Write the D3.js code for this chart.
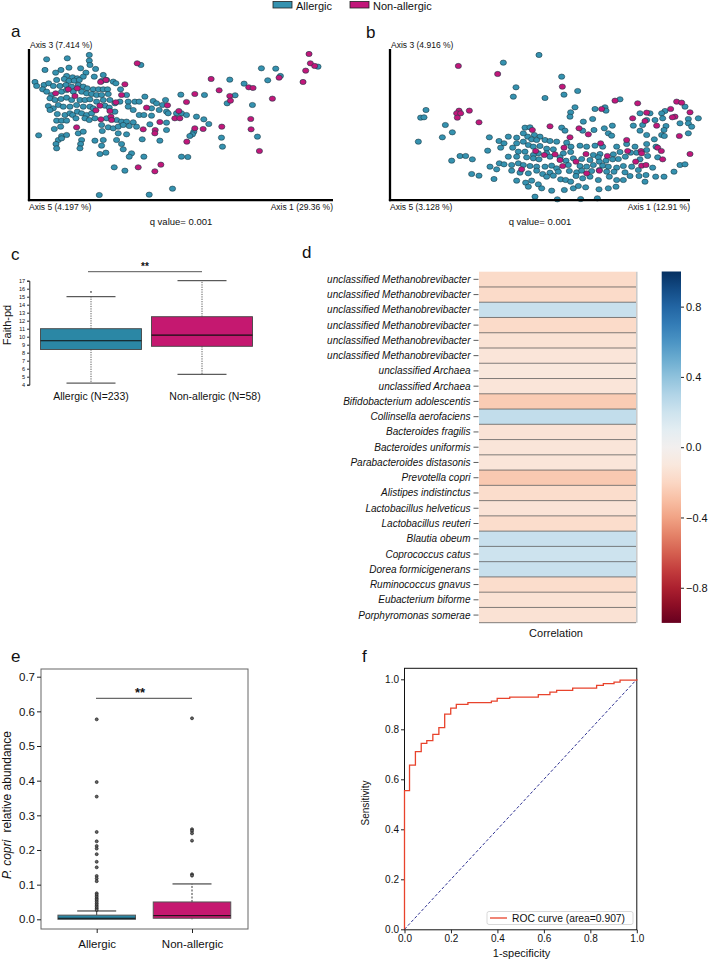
<!DOCTYPE html>
<html><head><meta charset="utf-8">
<script src="https://cdn.jsdelivr.net/npm/d3@7"></script>
<style>body{margin:0;background:#fff}svg{display:block}</style>
</head><body><svg id="chart" width="711" height="959"></svg>
<script>
// ---------------- DATA ----------------
const groups = ["Allergic", "Non-allergic"];
const groupColors = ["#3592b0", "#c2177a"];
const boxColors = ["#2b87a5", "#c51870"];

// PCoA (panel a): [axis1 score, axis3 score (picture units, downwards), group]
const pcoaA = [
[268,165,0],[140,178,0],[202,175,0],[423,195,0],[955,200,0],[268,182,0],[270,195,0],[135,210,0],[167,218,0],[183,210,0],[207,203,0],[242,205,0],[258,218,0],[287,207,0],[785,205,0],[828,206,0],[842,228,0],[804,241,0],
[412,190,1],[928,162,1],[932,190,1],[945,198,1],[918,212,1],[838,233,1],[910,246,1],
[310,225,0],[200,228,0],[218,232,0],[232,235,0],[250,230,0],[283,230,0],[170,240,0],[193,237,0],[207,243,0],[223,242,0],[238,240,0],[305,243,0],[320,240,0],[340,245,0],[348,250,0],[105,246,0],[110,258,0],[132,255,0],[146,250,0],[160,258,0],[180,258,0],[198,255,0],[215,260,0],[235,255,0],[250,260,0],[262,265,0],[280,268,0],[296,268,0],[310,268,0],[323,268,0],[362,268,0],[690,239,0],[733,251,0],
[302,246,1],[318,240,1],[375,253,1],[634,237,1],[747,262,1],[760,264,1],[658,271,1],
[128,268,0],[140,275,0],[155,285,0],[185,275,0],[200,270,0],[220,275,0],[245,275,0],[260,280,0],[275,282,0],[290,285,0],[305,285,0],[325,282,0],[380,285,0],[435,290,0],[543,284,0],[614,285,0],[706,286,0],
[167,280,1],[205,268,1],[232,265,1],[365,285,1],[585,282,1],[690,288,1],[818,296,1],[692,302,1],
[150,295,0],[165,300,0],[183,297,0],[200,293,0],[215,300,0],[240,300,0],[255,300,0],[270,298,0],[290,305,0],[310,300,0],[330,300,0],[345,310,0],[360,305,0],[385,305,0],[405,305,0],[418,305,0],[460,303,0],[470,310,0],[497,300,0],[488,315,0],[682,310,0],[758,315,0],[455,325,0],[385,320,0],[145,318,0],[160,325,0],[175,315,0],[190,320,0],[210,320,0],[230,315,0],[250,320,0],[270,320,0],[280,325,0],[315,317,0],[328,323,0],
[225,288,1],[348,307,1],[503,316,1],[560,306,1],[440,323,1],[300,317,1],[288,331,1],
[150,330,0],[172,342,0],[195,345,0],[210,340,0],[218,345,0],[232,335,0],[245,340,0],[260,345,0],[275,340,0],[345,335,0],[400,330,0],[418,345,0],[432,345,0],[455,347,0],[478,330,0],[500,335,0],[505,340,0],[530,340,0],[545,340,0],[560,345,0],[590,350,0],[612,358,0],[170,362,0],[185,362,0],[200,362,0],[228,355,0],[255,355,0],[268,360,0],[285,355,0],[320,355,0],[350,360,0],[365,365,0],[380,365,0],[400,367,0],[500,368,0],[627,372,0],
[330,333,1],[537,333,1],[525,355,1],[540,355,1],[753,357,1],[303,358,1],[333,350,1],[335,360,1],[480,366,1],
[305,375,0],[325,382,0],[340,385,0],[355,380,0],[370,375,0],[388,378,0],[410,380,0],[450,373,0],[163,387,0],[182,380,0],[500,390,0],[582,395,0],[578,403,0],[116,406,0],[185,408,0],[200,405,0],[235,400,0],[250,395,0],[307,393,0],[355,400,0],[380,403,0],[570,408,0],[665,413,0],[773,410,0],
[230,382,1],[430,388,1],[466,390,1],[585,385,1],[610,387,1],[666,380,1],[754,388,1],[465,400,1],
[175,420,0],[185,415,0],[245,420,0],[285,422,0],[310,420,0],[350,420,0],[427,418,0],[480,422,0],[168,432,0],[242,432,0],[305,437,0],[365,432,0],[668,440,0],[170,445,0],[240,445,0],[370,448,0],
[561,425,1],[779,453,1],
[300,462,0],[318,458,0],[395,460,0],[388,470,0],[432,470,0],[545,470,0],[564,471,0],[343,502,0],[375,512,0],[518,566,0],[298,585,0],[448,584,0],
[483,494,1],[415,502,1],[465,514,1]
];

// PCoA (panel b)
const pcoaB = [
[537,165,0],[430,188,0],[605,230,0],[468,262,0],[653,273,0],[612,284,0],[460,290,0],[555,294,0],[780,298,0],[975,320,0],
[295,198,1],[413,222,1],[607,260,1],[765,302,1],[833,310,1],[950,305,1],[965,308,1],
[198,330,0],[182,353,0],[192,352,0],[645,322,0],[632,337,0],[705,327,0],[735,322,0],[738,332,0],[630,350,0],[698,357,0],[670,365,0],[840,340,0],[870,340,0],[915,333,0],[905,340,0],[1015,355,0],[985,357,0],[860,360,0],[848,375,0],[820,377,0],[885,360,0],[908,355,0],[985,370,0],[995,380,0],[960,370,0],[918,378,0],
[297,332,1],[290,340,1],[302,340,1],[328,332,1],[292,353,1],[357,367,1],[725,327,1],[818,355,1],[860,338,1],[932,327,1],[990,337,1],[945,350,1],[937,352,1],[855,363,1],[890,377,1],
[256,375,0],[277,397,0],[247,412,0],[175,425,0],[495,383,0],[510,382,0],[605,383,0],[615,392,0],[702,390,0],[733,385,0],[757,377,0],[668,392,0],[745,400,0],[840,392,0],[755,407,0],[540,410,0],[523,405,0],[503,410,0],[490,400,0],[445,410,0],[470,413,0],[388,412,0],[860,405,0],[912,390,0],[905,405,0],[985,400,0],[883,418,0],[913,408,0],
[517,390,1],[570,379,1],[657,385,1],[685,403,1],[630,412,1],[958,408,1],
[417,423,0],[432,430,0],[470,430,0],[490,425,0],[515,418,0],[530,420,0],[555,420,0],[570,423,0],[505,435,0],[520,440,0],[540,438,0],[590,425,0],[620,428,0],[633,440,0],[560,446,0],[580,448,0],[660,437,0],[680,440,0],[705,437,0],[728,440,0],[770,440,0],[800,432,0],[825,440,0],[860,432,0],[888,440,0],[560,460,0],[422,443,0],[458,443,0],[383,452,0],[475,455,0],[495,455,0],[535,460,0],[520,465,0],[610,460,0],[632,456,0],[860,450,0],[830,458,0],[812,458,0],[780,456,0],[760,463,0],[720,462,0],[700,465,0],[715,472,0],
[612,443,1],[722,430,1],[800,420,1],[893,443,1],[585,463,1],[527,453,1],[904,453,1],[843,453,1],[845,460,1],[803,453,1],[742,468,1],[678,462,1],
[300,468,0],[317,468,0],[337,478,0],[275,482,0],[445,470,0],[470,470,0],[500,472,0],[520,475,0],[537,478,0],[570,470,0],[600,472,0],[618,482,0],[640,475,0],[665,477,0],[690,480,0],[718,485,0],[738,482,0],[758,478,0],[775,477,0],[796,470,0],[840,478,0],[863,468,0],[893,472,0],[960,495,0],[975,493,0],
[553,465,1],[600,480,1],[648,485,1],[827,485,1],[908,478,1],[990,462,1],
[390,500,0],[410,508,0],[418,490,0],[432,493,0],[455,495,0],[475,490,0],[490,495,0],[510,498,0],[530,500,0],[555,500,0],[575,497,0],[590,505,0],[625,495,0],[660,498,0],[680,500,0],[700,495,0],[728,497,0],[745,500,0],[770,503,0],[790,498,0],[815,500,0],[878,503,0],[835,510,0],[455,512,0],[480,518,0],[505,520,0],[530,512,0],[548,522,0],[570,518,0],[595,515,0],[628,513,0],[650,517,0],[665,512,0],[695,513,0],[718,510,0],[740,515,0],[762,515,0],[795,517,0],
[608,498,1],[845,497,1],[858,495,1],[680,520,1],[718,512,1],[485,508,1],
[335,522,0],[357,527,0],[402,537,0],[470,542,0],[497,548,0],[515,542,0],[535,553,0],[560,530,0],[580,527,0],[602,538,0],[617,540,0],[632,545,0],[648,528,0],[668,535,0],[690,530,0],[715,540,0],[748,530,0],[770,540,0],[790,540,0],[810,528,0],[837,528,0],[858,525,0],[887,530,0],[912,530,0],[942,515,0],[855,545,0],[505,560,0],[545,565,0],[575,572,0],[613,570,0],[640,565,0],[655,558,0],[677,562,0],[745,565,0],[768,560,0],[717,568,0],[525,590,0],[592,598,0],[662,597,0],[712,595,0]
];

const axisLabelsA = ["Axis 3 (7.414 %)", "Axis 5 (4.197 %)", "Axis 1 (29.36 %)"];
const axisLabelsB = ["Axis 3 (4.916 %)", "Axis 5 (3.128 %)", "Axis 1 (12.91 %)"];
const qValueText = "q value= 0.001";

// Panel c: Faith-pd boxplot
const faithLow = [4.2, 5.3];
const faithQ1 = [8.4, 8.8];
const faithMedian = [9.5, 10.2];
const faithQ3 = [11.0, 12.5];
const faithHigh = [15.0, 17.0];
const faithOutliers = [[0, 15.6]];
const faithTicks = [4,5,6,7,8,9,10,11,12,13,14,15,16,17];
const faithXLabels = ["Allergic (N=233)", "Non-allergic (N=58)"];

// Panel d: correlation heatmap
const dTaxa = ["unclassified Methanobrevibacter","unclassified Methanobrevibacter","unclassified Methanobrevibacter","unclassified Methanobrevibacter","unclassified Methanobrevibacter","unclassified Methanobrevibacter","unclassified Archaea","unclassified Archaea","Bifidobacterium adolescentis","Collinsella aerofaciens","Bacteroides fragilis","Bacteroides uniformis","Parabacteroides distasonis","Prevotella copri","Alistipes indistinctus","Lactobacillus helveticus","Lactobacillus reuteri","Blautia obeum","Coprococcus catus","Dorea formicigenerans","Ruminococcus gnavus","Eubacterium biforme","Porphyromonas somerae"];
const dCorr = [-0.18,-0.18,0.22,-0.18,-0.14,-0.12,-0.10,-0.12,-0.25,0.24,-0.13,-0.12,-0.12,-0.26,-0.17,-0.13,-0.17,0.22,0.20,0.22,-0.17,-0.14,-0.14];
const cbTicks = [0.8, 0.4, 0.0, -0.4, -0.8];

// Panel e: P. copri relative abundance
const pcQ1 = [0.0, 0.003];
const pcMedian = [0.003, 0.0106];
const pcQ3 = [0.012, 0.05];
const pcLow = [0.0, 0.0];
const pcHigh = [0.024, 0.102];
const pcOutAllergic = [0.577,0.396,0.354,0.252,0.225,0.2115,0.204,0.188,0.166,0.15,0.125,0.118,0.11,0.075,0.07,0.065,0.06,0.056,0.051,0.046,0.041,0.0365,0.032,0.027];
const pcOutNon = [0.58,0.26,0.255,0.248,0.227,0.13,0.126];
const pcTicks = [0,0.1,0.2,0.3,0.4,0.5,0.6,0.7];

// Panel f: ROC curve
const rocFpr = [0,0,0.0216,0.047,0.072,0.096,0.122,0.148,0.173,0.199,0.223,0.273,0.374,0.399,0.453,0.576,0.626,0.655,0.724,0.827,0.856,0.902,0.928,1.0];
const rocTpr = [0,0.555,0.657,0.711,0.744,0.755,0.78,0.807,0.861,0.885,0.9,0.907,0.913,0.924,0.929,0.939,0.949,0.956,0.965,0.976,0.983,0.989,0.997,1.0];
const rocLabel = "ROC curve (area=0.907)";
const rocTicks = [0,0.2,0.4,0.6,0.8,1.0];

// ---------------- DRAWING ----------------
const FONT = '"Liberation Sans", Arial, Helvetica, sans-serif';
const svg = d3.select("#chart").attr("font-family", FONT);
svg.append("rect").attr("width",711).attr("height",959).attr("fill","#fff");

function txt(x, y, s, size, opts = {}) {
  const t = svg.append("text").attr("x", x).attr("y", y).attr("font-size", size)
    .attr("fill", opts.fill || "#111").text(s);
  if (opts.anchor) t.attr("text-anchor", opts.anchor);
  if (opts.italic) t.attr("font-style", "italic");
  if (opts.weight) t.attr("font-weight", opts.weight);
  if (opts.rotate) t.attr("transform", `rotate(-90,${x},${y})`);
  return t;
}
function styleAxis(g, size) {
  g.attr("font-family", FONT).attr("font-size", size);
  g.selectAll("text").attr("fill", "#111");
  g.selectAll("line").attr("stroke", "#222");
  g.selectAll("path.domain").attr("stroke", "#222");
}

// Legend
groups.forEach((gname, i) => {
  const lx = [273, 350][i];
  svg.append("rect").attr("x", lx).attr("y", 1.5).attr("width", 19).attr("height", 6.5)
    .attr("fill", groupColors[i]).attr("stroke", "#222").attr("stroke-width", 0.8);
  txt(lx + 23, 9.5, gname, 11);
});

// Panel labels
[["a",11,37],["b",366,38],["c",11,260],["d",302,258],["e",11,662],["f",362,662]]
  .forEach(([l,x,y]) => txt(x, y, l, 17));

// Scatter panels
function pcoaPanel(pts, x0, x1, dom, labels) {
  const xs = d3.scaleLinear().domain(dom).range([x0, x1]);
  const ys = d3.scaleLinear().domain([148, 600]).range([49.3, 200]);
  const ordered = pts.filter(p => p[2] === 0).concat(pts.filter(p => p[2] === 1));
  svg.append("g").selectAll("ellipse").data(ordered).join("ellipse")
    .attr("cx", d => xs(d[0])).attr("cy", d => ys(d[1]))
    .attr("rx", 3.1).attr("ry", 2.6)
    .attr("fill", d => groupColors[d[2]])
    .attr("stroke", "#1d3d48").attr("stroke-width", 0.6);
  svg.append("line").attr("x1", x0).attr("x2", x0).attr("y1", 49).attr("y2", 201.2)
    .attr("stroke", "#000").attr("stroke-width", 2.3);
  svg.append("line").attr("x1", x0 - 1.1).attr("x2", x1).attr("y1", 200.2).attr("y2", 200.2)
    .attr("stroke", "#000").attr("stroke-width", 2.3);
  txt(x0 + 1, 47.5, labels[0], 8.5);
  txt(x0, 210, labels[1], 8.5);
  txt(x1, 210, labels[2], 8.5, {anchor: "end"});
  txt((x0 + x1) / 2, 224.5, qValueText, 9.5, {anchor: "middle"});
}
pcoaPanel(pcoaA, 29, 333, [87, 1000], axisLabelsA);
pcoaPanel(pcoaB, 390, 690, [90, 990], axisLabelsB);

// Panel c
{
  const yC = d3.scaleLinear().domain([4, 17]).range([384.7, 280.7]);
  const xC = d3.scalePoint().domain(groups).range([91, 202]);
  const ax = svg.append("g").attr("transform", "translate(29.3,0)")
    .call(d3.axisLeft(yC).tickValues(faithTicks).tickSize(2.2).tickSizeOuter(2.2).tickPadding(2).tickFormat(d3.format("d")));
  styleAxis(ax, 5.6);
  ax.select("path.domain").attr("stroke-width", 1);
  groups.forEach((g, i) => {
    const cx = xC(g);
    const bw = 101, cw = 49;
    svg.append("line").attr("x1", cx).attr("x2", cx).attr("y1", yC(faithQ3[i])).attr("y2", yC(faithHigh[i]))
      .attr("stroke", "#444").attr("stroke-dasharray", "1.2,1.2").attr("stroke-width", 0.9);
    svg.append("line").attr("x1", cx).attr("x2", cx).attr("y1", yC(faithQ1[i])).attr("y2", yC(faithLow[i]))
      .attr("stroke", "#444").attr("stroke-dasharray", "1.2,1.2").attr("stroke-width", 0.9);
    [faithHigh[i], faithLow[i]].forEach(v => svg.append("line")
      .attr("x1", cx - cw / 2).attr("x2", cx + cw / 2).attr("y1", yC(v)).attr("y2", yC(v))
      .attr("stroke", "#333").attr("stroke-width", 1));
    svg.append("rect").attr("x", cx - bw / 2).attr("width", bw)
      .attr("y", yC(faithQ3[i])).attr("height", yC(faithQ1[i]) - yC(faithQ3[i]))
      .attr("fill", boxColors[i]).attr("stroke", "#444").attr("stroke-width", 0.9);
    svg.append("line").attr("x1", cx - bw / 2).attr("x2", cx + bw / 2)
      .attr("y1", yC(faithMedian[i])).attr("y2", yC(faithMedian[i])).attr("stroke", "#111").attr("stroke-width", 1.1);
  });
  faithOutliers.forEach(([gi, v]) => svg.append("circle").attr("cx", xC(groups[gi])).attr("cy", yC(v))
    .attr("r", 0.9).attr("fill", "#555"));
  svg.append("line").attr("x1", 88).attr("x2", 202).attr("y1", 271.7).attr("y2", 271.7).attr("stroke", "#555").attr("stroke-width", 1);
  txt(145, 270, "**", 10, {anchor: "middle", weight: "bold"});
  txt(91, 400, faithXLabels[0], 10.5, {anchor: "middle"});
  txt(215, 400, faithXLabels[1], 10.5, {anchor: "middle"});
  txt(11, 325, "Faith-pd", 11, {anchor: "middle", rotate: true});
}

// Panel d
{
  const x0 = 479, x1 = 636;
  const yD = d3.scaleBand().domain(d3.range(dTaxa.length)).range([271.7, 622.7]);
  const color = v => d3.interpolateRdBu((v + 1) / 2);
  const g = svg.append("g");
  g.selectAll("rect").data(dCorr).join("rect")
    .attr("x", x0).attr("width", x1 - x0)
    .attr("y", (d, i) => yD(i)).attr("height", yD.bandwidth())
    .attr("fill", d => color(d));
  g.selectAll("line.sep").data(d3.range(1, dTaxa.length + 1)).join("line").attr("class", "sep")
    .attr("x1", x0).attr("x2", x1)
    .attr("y1", i => yD.range()[0] + i * yD.step()).attr("y2", i => yD.range()[0] + i * yD.step())
    .attr("stroke", "#4a4a4a").attr("stroke-width", 0.7);
  svg.append("line").attr("x1", x1 + 0.8).attr("x2", x1 + 0.8).attr("y1", 271.7).attr("y2", 622.7)
    .attr("stroke", "#c8c8c8").attr("stroke-width", 1.5);
  dTaxa.forEach((t, i) => {
    const cy = yD(i) + yD.bandwidth() / 2;
    svg.append("line").attr("x1", 473.5).attr("x2", 478.5).attr("y1", cy).attr("y2", cy).attr("stroke", "#333").attr("stroke-width", 0.8);
    txt(470.5, cy + 3.5, t, 10, {anchor: "end", italic: true});
  });
  txt(556, 637, "Correlation", 11, {anchor: "middle"});

  // colorbar
  const cb = d3.scaleLinear().domain([-1, 1]).range([622.9, 271.5]);
  const grad = svg.append("defs").append("linearGradient").attr("id", "cbgrad")
    .attr("x1", 0).attr("x2", 0).attr("y1", 1).attr("y2", 0);
  d3.range(0, 1.0001, 0.05).forEach(t => grad.append("stop").attr("offset", t).attr("stop-color", d3.interpolateRdBu(t)));
  svg.append("rect").attr("x", 661.7).attr("width", 19.3).attr("y", cb(1)).attr("height", cb(-1) - cb(1)).attr("fill", "url(#cbgrad)");
  const cax = svg.append("g").attr("transform", "translate(681,0)")
    .call(d3.axisRight(cb).tickValues(cbTicks).tickSize(3).tickPadding(2).tickFormat(d3.format(".1f")));
  styleAxis(cax, 11);
  cax.select("path.domain").remove();
}

// Panel e
{
  const yE = d3.scaleLinear().domain([0, 0.7]).range([919.3, 676.7]);
  const xE = d3.scalePoint().domain(groups).range([96.7, 192]);
  svg.append("rect").attr("x", 41).attr("y", 669).attr("width", 207).attr("height", 260)
    .attr("fill", "none").attr("stroke", "#666").attr("stroke-width", 1);
  const ax = svg.append("g").attr("transform", "translate(41,0)")
    .call(d3.axisLeft(yE).tickValues(pcTicks).tickSize(4).tickPadding(2).tickFormat(d3.format(".1f")));
  styleAxis(ax, 11.5);
  ax.select("path.domain").remove();
  const bx = svg.append("g").attr("transform", "translate(0,929)")
    .call(d3.axisBottom(xE).tickSize(4).tickPadding(5));
  styleAxis(bx, 11.5);
  bx.select("path.domain").remove();
  bx.selectAll("text").attr("dy", "0.9em");
  const outs = [pcOutAllergic, pcOutNon];
  groups.forEach((g, i) => {
    const cx = xE(g), bw = 77.5, cw = 39;
    svg.append("line").attr("x1", cx).attr("x2", cx).attr("y1", yE(pcQ3[i])).attr("y2", yE(pcHigh[i]))
      .attr("stroke", "#222").attr("stroke-dasharray", i ? "2,1.5" : null).attr("stroke-width", 0.9);
    svg.append("line").attr("x1", cx).attr("x2", cx).attr("y1", yE(pcQ1[i])).attr("y2", yE(pcLow[i]))
      .attr("stroke", "#222").attr("stroke-width", 0.9);
    svg.append("line").attr("x1", cx - cw / 2).attr("x2", cx + cw / 2).attr("y1", yE(pcHigh[i])).attr("y2", yE(pcHigh[i]))
      .attr("stroke", "#222").attr("stroke-width", 1);
    svg.append("rect").attr("x", cx - bw / 2).attr("width", bw)
      .attr("y", yE(pcQ3[i])).attr("height", yE(pcQ1[i]) - yE(pcQ3[i]))
      .attr("fill", boxColors[i]).attr("stroke", "#555").attr("stroke-width", 1);
    svg.append("line").attr("x1", cx - bw / 2).attr("x2", cx + bw / 2).attr("y1", yE(pcMedian[i])).attr("y2", yE(pcMedian[i]))
      .attr("stroke", "#111").attr("stroke-width", 1);
    svg.append("g").selectAll("circle").data(outs[i]).join("circle")
      .attr("cx", cx).attr("cy", d => yE(d)).attr("r", 1.5)
      .attr("fill", "#666").attr("stroke", "#111").attr("stroke-width", 0.6);
  });
  svg.append("line").attr("x1", 96).attr("x2", 192).attr("y1", 698.3).attr("y2", 698.3).attr("stroke", "#444").attr("stroke-width", 1);
  txt(140, 697, "**", 13, {anchor: "middle", weight: "bold"});
  const lab = svg.append("text").attr("transform", "translate(11,805) rotate(-90)")
    .attr("text-anchor", "middle").attr("font-size", 12).attr("fill", "#111");
  lab.append("tspan").attr("font-style", "italic").text("P. copri");
  lab.append("tspan").attr("dx", 4).text(" relative abundance");
}

// Panel f
{
  const xF = d3.scaleLinear().domain([0, 1]).range([404.5, 636.8]);
  const yF = d3.scaleLinear().domain([0, 1]).range([929.3, 679.3]);
  svg.append("rect").attr("x", 404.5).attr("y", 668.3).attr("width", 232.3).attr("height", 261.5)
    .attr("fill", "none").attr("stroke", "#111").attr("stroke-width", 1);
  const ax = svg.append("g").attr("transform", "translate(404.5,0)")
    .call(d3.axisLeft(yF).tickValues(rocTicks).tickSize(3.5).tickPadding(2).tickFormat(d3.format(".1f")));
  styleAxis(ax, 10); ax.select("path.domain").remove();
  const bx = svg.append("g").attr("transform", "translate(0,929.8)")
    .call(d3.axisBottom(xF).tickValues(rocTicks).tickSize(3.5).tickPadding(2).tickFormat(d3.format(".1f")));
  styleAxis(bx, 10); bx.select("path.domain").remove();
  svg.append("line").attr("x1", xF(0)).attr("y1", yF(0)).attr("x2", xF(1)).attr("y2", yF(1))
    .attr("stroke", "#2e3192").attr("stroke-width", 1).attr("stroke-dasharray", "3,2");
  const line = d3.line().x(d => xF(d[0])).y(d => yF(d[1])).curve(d3.curveStepAfter);
  svg.append("path").datum(rocFpr.map((f, i) => [f, rocTpr[i]])).attr("d", line)
    .attr("fill", "none").attr("stroke", "#e8432c").attr("stroke-width", 1.3);
  svg.append("rect").attr("x", 487).attr("y", 911.5).attr("width", 146).attr("height", 13).attr("rx", 2)
    .attr("fill", "#fff").attr("stroke", "#cfcfcf").attr("stroke-width", 0.8);
  svg.append("line").attr("x1", 490).attr("x2", 507).attr("y1", 918).attr("y2", 918).attr("stroke", "#e8432c").attr("stroke-width", 1.3);
  txt(512, 921.6, rocLabel, 10.3);
  txt(369, 803, "Sensitivity", 10, {anchor: "middle", rotate: true});
  txt(521.5, 957, "1-specificity", 11, {anchor: "middle"});
}
</script></body></html>
